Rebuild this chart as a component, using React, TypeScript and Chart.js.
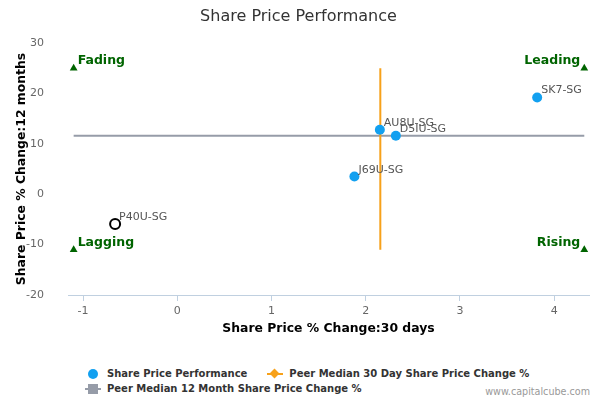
import { useEffect, useRef } from "react"
import { Chart, registerables, type ChartConfiguration, type Plugin } from "chart.js"

Chart.register(...registerables)

// companies: x = 30 day change, y = 12 month change
const companies = ["SK7-SG", "AU8U-SG", "D5IU-SG", "J69U-SG", "P40U-SG"]
const change30d = [3.82, 2.15, 2.32, 1.88, -0.66]
const change12m = [19.2, 12.8, 11.6, 3.5, -5.9]
const subject = "P40U-SG"

const peerMedian30d = 2.155
const peerMedian12m = 11.6

const quadrantNames = ["Fading", "Leading", "Lagging", "Rising"]
const quadrantX = [-1.1, 4.32, -1.1, 4.32]
const quadrantY = [25, 25, -11, -11]

const xTicks = [-1, 0, 1, 2, 3, 4]
const yTicks = [-20, -10, 0, 10, 20, 30]

const FONT = '"DejaVu Sans", sans-serif'
const BLUE = "#12a0f0"
const ORANGE = "#f7a11a"
const GREY = "#969ca8"
const GREEN = "#006400"

const labelPlugin: Plugin = {
  id: "pointLabels",
  afterDatasetsDraw(chart) {
    const ctx = chart.ctx
    ctx.save()
    ctx.font = `11px ${FONT}`
    ctx.fillStyle = "#555"
    ctx.textAlign = "left"
    ctx.textBaseline = "alphabetic"
    chart.getDatasetMeta(0).data.forEach((el, i) => {
      ctx.fillText(companies[i], el.x + 4, el.y - 4)
    })
    ctx.font = `bold 12.5px ${FONT}`
    ctx.fillStyle = GREEN
    chart.getDatasetMeta(3).data.forEach((el, i) => {
      const left = i % 2 === 0
      ctx.textAlign = left ? "left" : "right"
      ctx.fillText(quadrantNames[i], el.x + (left ? 4 : -4), el.y - 4)
    })
    ctx.restore()
  },
}

function LegendIcon({ kind }: { kind: "dot" | "diamond" | "square" }) {
  if (kind === "dot") {
    return (
      <span style={{ position: "relative", display: "inline-block", width: 22, height: 12 }}>
        <span style={{ position: "absolute", left: 3, top: 1, width: 10, height: 10, borderRadius: 5, background: BLUE }} />
      </span>
    )
  }
  const color = kind === "diamond" ? ORANGE : GREY
  return (
    <span style={{ position: "relative", display: "inline-block", width: 22, height: 12 }}>
      <span style={{ position: "absolute", left: 0, top: 5, width: 16, height: 2, background: color }} />
      <span
        style={{
          position: "absolute",
          left: kind === "diamond" ? 4 : 3,
          top: kind === "diamond" ? 2 : 1,
          width: kind === "diamond" ? 7 : 10,
          height: kind === "diamond" ? 7 : 10,
          background: color,
          transform: kind === "diamond" ? "rotate(45deg)" : undefined,
        }}
      />
    </span>
  )
}

export default function App() {
  const canvasRef = useRef<HTMLCanvasElement>(null)
  const chartRef = useRef<Chart | null>(null)

  useEffect(() => {
    if (!canvasRef.current) return
    if (chartRef.current) chartRef.current.destroy()

    const ctx = canvasRef.current.getContext("2d")
    if (!ctx) return

    const config: ChartConfiguration = {
      type: "scatter",
      data: {
        datasets: [
          {
            label: "Share Price Performance",
            data: companies.map((_, i) => ({ x: change30d[i], y: change12m[i] })),
            backgroundColor: companies.map((c) => (c === subject ? "#ffffff" : BLUE)),
            borderColor: companies.map((c) => (c === subject ? "#000000" : BLUE)),
            borderWidth: companies.map((c) => (c === subject ? 2 : 0)),
            pointRadius: 5,
            order: 1,
          },
          {
            label: "Peer Median 30 Day Share Price Change %",
            type: "line",
            data: [
              { x: peerMedian30d, y: quadrantY[0] },
              { x: peerMedian30d, y: quadrantY[2] },
            ],
            borderColor: ORANGE,
            borderWidth: 2,
            pointRadius: 0,
            fill: false,
            order: 3,
          },
          {
            label: "Peer Median 12 Month Share Price Change %",
            type: "line",
            data: [
              { x: quadrantX[0], y: peerMedian12m },
              { x: quadrantX[1], y: peerMedian12m },
            ],
            borderColor: GREY,
            borderWidth: 2,
            pointRadius: 0,
            fill: false,
            order: 4,
          },
          {
            label: "Quadrants",
            data: quadrantNames.map((_, i) => ({ x: quadrantX[i], y: quadrantY[i] })),
            pointStyle: "triangle",
            pointRadius: 4.5,
            backgroundColor: GREEN,
            borderColor: GREEN,
            borderWidth: 0,
            order: 2,
          },
        ],
      },
      options: {
        animation: false,
        responsive: true,
        maintainAspectRatio: false,
        layout: { padding: { left: 8, right: 11, top: 0, bottom: 5 } },
        plugins: {
          legend: { display: false },
          tooltip: { enabled: false },
          title: {
            display: true,
            text: "Share Price Performance",
            color: "#333333",
            font: { family: FONT, size: 16, weight: "normal" },
            padding: { top: 7, bottom: 16.8 },
          },
        },
        scales: {
          x: {
            type: "linear",
            min: -1.16,
            max: 4.37,
            afterBuildTicks: (s) => {
              s.ticks = xTicks.map((v) => ({ value: v }))
            },
            afterFit: (s) => {
              s.height = 45
            },
            ticks: { color: "#666666", font: { family: FONT, size: 11 }, padding: 4 },
            grid: { display: true, drawOnChartArea: false, drawTicks: true, tickLength: 6, color: "#c0d0e0" },
            border: { display: true, color: "#c0d0e0" },
            title: {
              display: true,
              text: "Share Price % Change:30 days",
              color: "#000000",
              font: { family: FONT, size: 12.4, weight: "bold" },
              padding: { top: 0, bottom: 4 },
            },
          },
          y: {
            type: "linear",
            min: -20,
            max: 30,
            afterBuildTicks: (s) => {
              s.ticks = yTicks.map((v) => ({ value: v }))
            },
            afterFit: (s) => {
              s.width = 60
            },
            ticks: { color: "#666666", font: { family: FONT, size: 11 }, padding: 16 },
            grid: { display: false },
            border: { display: false },
            title: {
              display: true,
              text: "Share Price % Change:12 months",
              color: "#000000",
              font: { family: FONT, size: 12.4, weight: "bold" },
              padding: { top: 6, bottom: 0 },
            },
          },
        },
      },
      plugins: [labelPlugin],
    }

    chartRef.current = new Chart(ctx, config)

    return () => {
      if (chartRef.current) {
        chartRef.current.destroy()
        chartRef.current = null
      }
    }
  }, [])

  const legendText = { fontFamily: FONT, fontSize: 10, fontWeight: "bold" as const, color: "#333333" }

  return (
    <div style={{ position: "absolute", left: 0, top: 0, width: 600, height: 400, background: "#ffffff" }}>
      <div style={{ position: "absolute", left: 0, top: 0, width: 600, height: 345 }}>
        <canvas ref={canvasRef}></canvas>
      </div>
      <div style={{ position: "absolute", left: 85, top: 366, ...legendText, lineHeight: "15px" }}>
        <div style={{ display: "flex", alignItems: "center", whiteSpace: "nowrap" }}>
          <LegendIcon kind="dot" />
          <span style={{ marginRight: 20 }}>Share Price Performance</span>
          <LegendIcon kind="diamond" />
          <span>Peer Median 30 Day Share Price Change %</span>
        </div>
        <div style={{ display: "flex", alignItems: "center", whiteSpace: "nowrap" }}>
          <LegendIcon kind="square" />
          <span>Peer Median 12 Month Share Price Change %</span>
        </div>
      </div>
      <div
        style={{
          position: "absolute",
          right: 10,
          top: 386,
          fontFamily: FONT,
          fontSize: 9.6,
          color: "#999999",
        }}
      >
        www.capitalcube.com
      </div>
    </div>
  )
}
